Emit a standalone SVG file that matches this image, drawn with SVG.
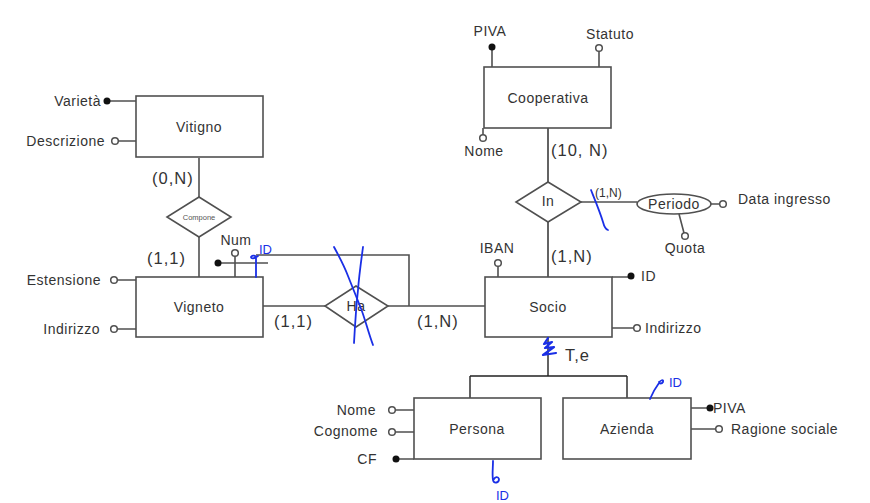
<svg xmlns="http://www.w3.org/2000/svg" width="870" height="503" viewBox="0 0 870 503">
<style>
.box{fill:#fff;stroke:#505050;stroke-width:1.6}
.ln{fill:none;stroke:#505050;stroke-width:1.6}
.ln2{fill:none;stroke:#222;stroke-width:1.4}
.t{font-family:"Liberation Sans",Arial,sans-serif;font-size:14px;fill:#333;letter-spacing:0.5px}
.c{text-anchor:middle}
.e{text-anchor:end}
.card{font-family:"Liberation Sans",Arial,sans-serif;font-size:16.5px;fill:#333;letter-spacing:1px}
.dot{fill:#111}
.hol{fill:#fff;stroke:#505050;stroke-width:1.5}
.blue{fill:none;stroke:#1a2fe6;stroke-width:1.8;stroke-linecap:round;stroke-linejoin:round}
.bt{font-family:"Liberation Sans",Arial,sans-serif;font-size:13px;fill:#1a2fe6}
</style>
<rect width="870" height="503" fill="#fff"/>

<g id="connectors">
  <path class="ln" d="M199,158 V197 M199,237 V277"/>
  <path class="ln" d="M263,306 H325 M388,306 H485"/>
  <path class="ln" d="M256,255 H409 V306"/>
  <path class="ln2" d="M548,128 V182 M548,222 V277"/>
  <path class="ln" d="M581,202 H637"/>
  <path class="ln2" d="M548,337 V376 M470,376 H627 M470,376 V398 M627,376 V398"/>
</g>

<g id="vitigno">
  <rect class="box" x="136" y="96" width="127" height="61"/>
  <text class="t c" x="199" y="132">Vitigno</text>
  <path class="ln" d="M107,101 H136 M118,141 H136"/>
  <circle class="dot" cx="107" cy="101" r="3.5"/>
  <circle class="hol" cx="115" cy="141" r="3.3"/>
  <text class="t e" x="101" y="106">Varietà</text>
  <text class="t e" x="105" y="146">Descrizione</text>
</g>

<g id="compone">
  <polygon class="box" points="199,197 231,217 199,237 167,217"/>
  <text x="199" y="220" text-anchor="middle" font-family="Liberation Sans,Arial,sans-serif" font-size="7.5" fill="#555">Compone</text>
</g>

<g id="vigneto">
  <rect class="box" x="136" y="277" width="127" height="60"/>
  <text class="t c" x="199" y="312">Vigneto</text>
  <path class="ln" d="M117,280 H136 M117,329 H136"/>
  <circle class="hol" cx="114" cy="280" r="3.3"/>
  <circle class="hol" cx="114" cy="329" r="3.3"/>
  <text class="t e" x="101" y="285">Estensione</text>
  <text class="t e" x="100" y="334">Indirizzo</text>
  <path class="ln" d="M218,263 H268 M235,256 V277"/>
  <circle class="dot" cx="218" cy="263" r="3.5"/>
  <circle class="hol" cx="235" cy="253" r="3.3"/>
  <text class="t c" x="236" y="245">Num</text>
</g>

<g id="ha">
  <polygon class="box" points="356,286 388,306 356,327 325,306"/>
  <text class="t c" x="356" y="311" font-size="12">Ha</text>
</g>

<g id="cooperativa">
  <rect class="box" x="484" y="67" width="127" height="61"/>
  <text class="t c" x="548" y="103">Cooperativa</text>
  <path class="ln" d="M492,47 V67 M599,51 V67 M483,128 V135"/>
  <circle class="dot" cx="492" cy="47" r="3.5"/>
  <circle class="hol" cx="599" cy="48" r="3.3"/>
  <circle class="hol" cx="483" cy="138" r="3.3"/>
  <text class="t c" x="490" y="36">PIVA</text>
  <text class="t c" x="610" y="39">Statuto</text>
  <text class="t c" x="484" y="156">Nome</text>
</g>

<g id="in">
  <polygon class="box" points="548,182 581,202 548,222 516,202"/>
  <text class="t c" x="548" y="206" font-size="12">In</text>
</g>

<g id="periodo">
  <ellipse class="box" cx="674" cy="204" rx="37" ry="10"/>
  <text class="t c" x="674" y="209">Periodo</text>
  <path class="ln" d="M711,204 H720 M679,214 L684,233"/>
  <circle class="hol" cx="723" cy="204" r="3.3"/>
  <circle class="hol" cx="685" cy="236" r="3.3"/>
  <text class="t" x="738" y="204">Data ingresso</text>
  <text class="t c" x="685" y="253">Quota</text>
</g>

<g id="socio">
  <rect class="box" x="485" y="277" width="127" height="60"/>
  <text class="t c" x="548" y="312">Socio</text>
  <path class="ln" d="M498,266 V277 M612,277 H631 M612,328 H634"/>
  <circle class="hol" cx="498" cy="263" r="3.3"/>
  <circle class="dot" cx="631" cy="276" r="3.5"/>
  <circle class="hol" cx="637" cy="328" r="3.3"/>
  <text class="t c" x="497" y="253">IBAN</text>
  <text class="t" x="641" y="281">ID</text>
  <text class="t" x="645" y="333">Indirizzo</text>
</g>

<g id="persona">
  <rect class="box" x="414" y="398" width="127" height="61"/>
  <text class="t c" x="477" y="434">Persona</text>
  <path class="ln" d="M395,410 H414 M395,432 H414 M396,459 H414"/>
  <circle class="hol" cx="392" cy="410" r="3.3"/>
  <circle class="hol" cx="392" cy="432" r="3.3"/>
  <circle class="dot" cx="396" cy="459" r="3.5"/>
  <text class="t e" x="376" y="415">Nome</text>
  <text class="t e" x="378" y="436">Cognome</text>
  <text class="t e" x="377" y="464">CF</text>
</g>

<g id="azienda">
  <rect class="box" x="563" y="398" width="128" height="61"/>
  <text class="t c" x="627" y="434">Azienda</text>
  <path class="ln" d="M691,408 H710 M691,429 H716"/>
  <circle class="dot" cx="710" cy="408" r="3.5"/>
  <circle class="hol" cx="719" cy="429" r="3.3"/>
  <text class="t" x="713" y="413">PIVA</text>
  <text class="t" x="731" y="434">Ragione sociale</text>
</g>

<g id="labels">
  <text class="card" x="152" y="184">(0,N)</text>
  <text class="card" x="147" y="264">(1,1)</text>
  <text class="card" x="274" y="327">(1,1)</text>
  <text class="card" x="417" y="327">(1,N)</text>
  <text class="card" x="551" y="156">(10, N)</text>
  <text class="card" x="551" y="262">(1,N)</text>
  <text x="595" y="197" font-family="Liberation Sans,Arial,sans-serif" font-size="12" fill="#333">(1,N)</text>
  <text class="card" x="565" y="361">T,e</text>
</g>

<g id="annotations">
  <path class="blue" d="M334,247 C340,258 345,268 348,276 C352,286 356,296 360,306 C365,318 368,332 373,345"/>
  <path class="blue" d="M363,247 C361,262 359,276 358,290 C356,308 355,325 354,343"/>
  <path class="blue" d="M256,277 V258 C256,255 252,255 251,257 C251,259 254,259 258,256"/>
  <text class="bt" x="259" y="254">ID</text>
  <path class="blue" d="M591,190 C595,200 600,212 603,222 C604,226 605,229 608,230"/>
  <path class="blue" d="M548,338 L544,344 L552,342 L545,348 L554,347 L543,355 L556,353" style="stroke-width:2.2"/>
  <path class="blue" d="M650,399 C653,392 656,387 659,383 C660,380 664,379 663,382 C662,384 659,384 659,382"/>
  <text class="bt" x="669" y="387" font-size="14">ID</text>
  <path class="blue" d="M493,461 C493,468 492,475 493,480 C494,484 499,483 499,479 C498,476 495,477 494,479"/>
  <text class="bt" x="496" y="500">ID</text>
</g>
</svg>
